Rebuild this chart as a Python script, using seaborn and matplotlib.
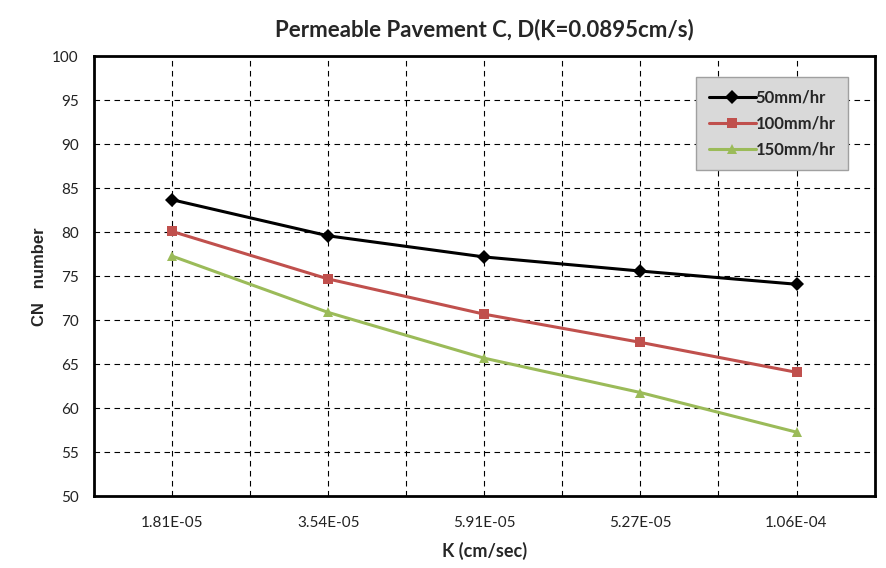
import matplotlib
matplotlib.use("Agg")
import matplotlib.pyplot as plt
import seaborn as sns
import pandas as pd

k_labels = ["1.81E-05", "3.54E-05", "5.91E-05", "5.27E-05", "1.06E-04"]
series_names = ["50mm/hr", "100mm/hr", "150mm/hr"]
cn_50 = [83.7, 79.6, 77.2, 75.6, 74.1]
cn_100 = [80.1, 74.7, 70.7, 67.5, 64.1]
cn_150 = [77.3, 70.9, 65.7, 61.8, 57.3]

rows = []
for name, vals in zip(series_names, [cn_50, cn_100, cn_150]):
    for i, (lab, v) in enumerate(zip(k_labels, vals)):
        rows.append({"pos": i, "K": lab, "CN": v, "Rain": name})
df = pd.DataFrame(rows)

sns.set_style("white")
plt.rcParams["font.family"] = ["Lato", "DejaVu Sans"]

fig = plt.figure(figsize=(8.87, 5.68), dpi=100)
ax = fig.add_axes([0.106, 0.126, 0.880, 0.775])

palette = {"50mm/hr": "#000000", "100mm/hr": "#c0504d", "150mm/hr": "#9bbb59"}
markers = {"50mm/hr": "D", "100mm/hr": "s", "150mm/hr": "^"}
sns.lineplot(data=df, x="pos", y="CN", hue="Rain", style="Rain",
             palette=palette, markers=markers, dashes=False,
             linewidth=2.2, markersize=7, markeredgewidth=0,
             ax=ax)

ax.set_xlim(-0.5, 4.5)
ax.set_ylim(50, 100)
ax.set_yticks(range(50, 101, 5))
ax.set_xticks(range(5))
ax.set_xticklabels(k_labels)
ax.set_xticks([i + 0.5 for i in range(-1, 5)], minor=True)

ax.grid(True, which="major", axis="both", color="black", linestyle=(0, (5, 4)), linewidth=0.8)
ax.grid(True, which="minor", axis="x", color="black", linestyle=(0, (5, 4)), linewidth=0.8)

for s in ax.spines.values():
    s.set_visible(True)
    s.set_color("black")
    s.set_linewidth(2)

ax.tick_params(axis="y", which="major", length=5, width=1, color="#444444",
               labelsize=11, pad=6, labelcolor="#222222")
ax.tick_params(axis="x", which="both", length=0, labelsize=11, pad=14, labelcolor="#222222")

ax.set_title("Permeable Pavement C, D(K=0.0895cm/s)", fontsize=16, fontweight="bold", pad=14)
ax.set_xlabel("K (cm/sec)", fontsize=13, fontweight="bold", labelpad=9)
ax.set_ylabel("CN   number", fontsize=12, fontweight="bold", labelpad=4,
              family=["Liberation Sans", "DejaVu Sans"])

leg = ax.legend(title=None, loc="upper right", bbox_to_anchor=(0.966, 0.952),
                borderaxespad=0.0,
                frameon=True, fancybox=False, handlelength=2.8,
                handletextpad=0.0, borderpad=0.75, labelspacing=0.6,
                prop={"weight": "bold", "size": 12})
leg.get_frame().set_facecolor("#d9d9d9")
leg.get_frame().set_edgecolor("#a0a0a0")
leg.get_frame().set_alpha(1)

fig.savefig("out.png", dpi=100)
